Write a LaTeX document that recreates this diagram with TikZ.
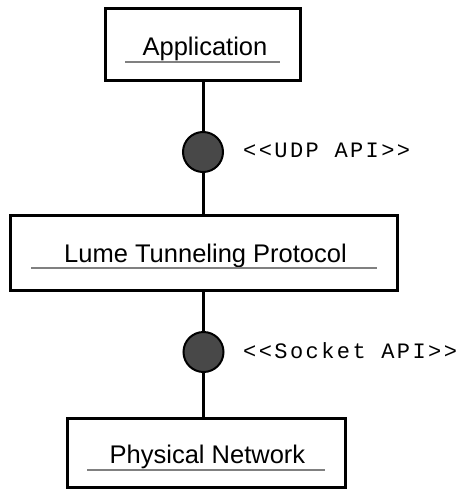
\documentclass[tikz,border=0pt]{standalone}
\usepackage{fontspec}
\setmainfont{Liberation Sans}
\newfontfamily\monof[LetterSpace=11]{Liberation Mono}
\definecolor{ballgray}{RGB}{72,72,72}
\definecolor{linegray}{RGB}{128,128,128}
\tikzset{
  compbox/.style={draw=black, line width=3pt, fill=white, inner sep=0pt, rectangle},
  comptext/.style={font=\fontsize{25.5}{30}\selectfont, anchor=base, inner sep=0pt},
  uline/.style={draw=linegray, line width=2pt},
  conn/.style={draw=black, line width=3pt},
  ball/.style={circle, draw=black, line width=2pt, fill=ballgray, minimum size=40pt, inner sep=0pt},
  apilabel/.style={font=\monof\fontsize{22}{26}\selectfont, anchor=west, inner sep=0pt}
}
\begin{document}
\begin{tikzpicture}[x=1pt,y=-1pt]
\useasboundingbox (0,0) rectangle (467,490);
% boxes
\node[compbox, minimum width=195pt, minimum height=72pt] (app) at (203,44) {};
\node[compbox, minimum width=387pt, minimum height=75pt] (mid) at (203.5,252.5) {};
\node[compbox, minimum width=278pt, minimum height=69pt] (bot) at (206,452.5) {};
% balls
\node[ball] (c1) at (203,152) {};
\node[ball] (c2) at (203.5,352) {};
% connectors
\draw[conn] (app.south -| c1) -- (c1.north);
\draw[conn] (c1.south) -- (mid.north -| c1);
\draw[conn] (mid.south -| c2) -- (c2.north);
\draw[conn] (c2.south) -- (bot.north -| c2);
% texts
\node[comptext] (appt) at (205,55) {Application};
\node[comptext] (midt) at (205.5,262) {Lume Tunneling Protocol};
\node[comptext] (bott) at (207.5,463) {Physical Network};
\coordinate (u1a) at (125,62); \coordinate (u1b) at (280,62);
\coordinate (u2a) at (31,268); \coordinate (u2b) at (377,268);
\coordinate (u3a) at (87,470); \coordinate (u3b) at (325,470);
\draw[uline] (u1a) -- (u1b);
\draw[uline] (u2a) -- (u2b);
\draw[uline] (u3a) -- (u3b);
% labels
\node[apilabel] (l1) at (243,150) {<<UDP API>>};
\node[apilabel] (l2) at (243,351) {<<Socket API>>};
\end{tikzpicture}
\end{document}
